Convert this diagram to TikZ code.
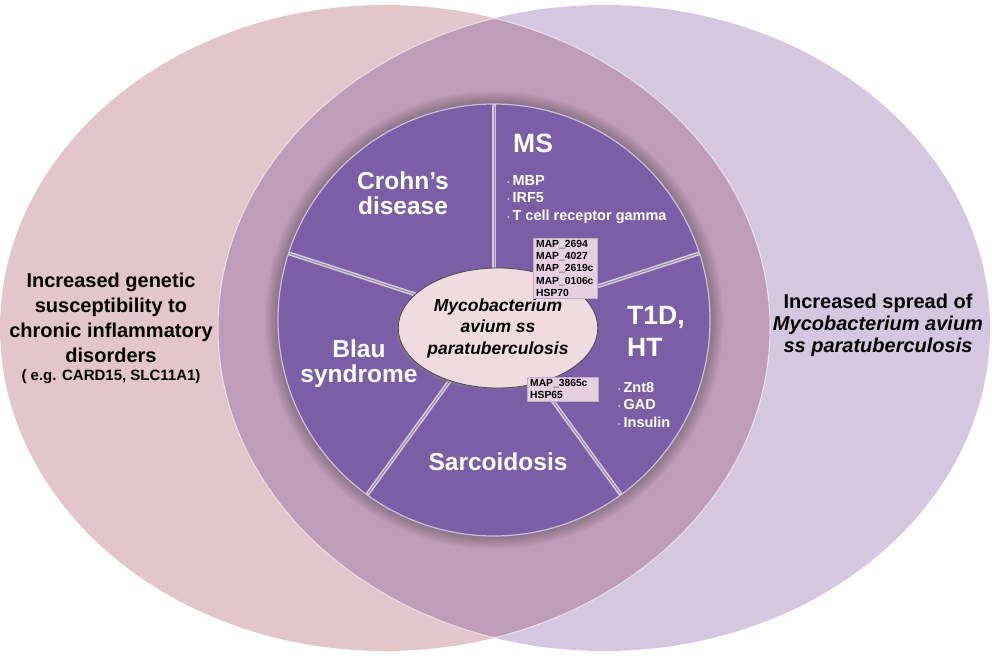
\documentclass[tikz,border=0pt]{standalone}
\usepackage{fontspec}
\setmainfont{Liberation Sans}
\usetikzlibrary{positioning,shapes.geometric,shadows}

\definecolor{leftpink}{HTML}{E3C6CC}
\definecolor{rightlav}{HTML}{D5C7E0}
\definecolor{lens}{HTML}{BF9CB8}
\definecolor{pie}{HTML}{7B5EA5}
\definecolor{pieedge}{HTML}{CDBEDB}
\definecolor{centerpink}{HTML}{F0DCE0}
\definecolor{boxfill}{HTML}{E6D0E0}
\definecolor{boxedge}{HTML}{C4A9C8}
\definecolor{divlight}{HTML}{D6CCDC}
\definecolor{divmid}{HTML}{968AA4}

\newcommand\gdot{{\fontsize{9}{9}\selectfont·}\,}

\tikzset{
  outer/.style={font=\bfseries\fontsize{20}{25}\selectfont,align=center,text=black},
  dis/.style={font=\bfseries\fontsize{24.5}{25}\selectfont,text=white,align=center,inner sep=0pt},
  bigdis/.style={font=\bfseries\fontsize{26.5}{32}\selectfont,text=white,align=left,inner sep=0pt},
  gene/.style={font=\bfseries\fontsize{14.5}{17.5}\selectfont,text=white,align=left,inner sep=0pt},
  mapbox/.style={draw=boxedge,fill=boxfill,font=\bfseries\fontsize{10.3}{12.3}\selectfont,
    align=left,inner xsep=3pt,inner ysep=2pt,anchor=north west},
  divider/.style={line width=4pt,draw=divlight}
}

\begin{document}
\begin{tikzpicture}[x=1pt,y=-1pt]
\useasboundingbox (0,0) rectangle (992,658);

% the two sets
\fill[leftpink] (385,328) ellipse [x radius=385,y radius=323];
\fill[rightlav] (604,328) ellipse [x radius=386,y radius=323];
\begin{scope}
\clip (385,328) ellipse [x radius=385,y radius=323];
\fill[lens] (604,328) ellipse [x radius=386,y radius=323];
\draw[white,opacity=.6,line width=1pt] (604,328) ellipse [x radius=386,y radius=323];
\end{scope}
\begin{scope}
\clip (604,328) ellipse [x radius=386,y radius=323];
\draw[white,opacity=.6,line width=1pt] (385,328) ellipse [x radius=385,y radius=323];
\end{scope}

% pie with its soft shadow
\coordinate (c) at (494,320);
\foreach \i in {1,...,14}
  \fill[black,opacity=.02] (c) circle [radius=230-\i];
\fill[pie] (c) circle [radius=216];
\draw[pieedge,line width=1.2pt] (c) circle [radius=216];
\foreach \a in {-90,-18,54,126,198} {
  \draw[divider] (c) -- ++(\a:216);
  \draw[divmid,line width=1pt] (c) -- ++(\a:215);
}

% centre
\node[ellipse,draw=black!70,line width=.8pt,fill=centerpink,minimum width=166pt,minimum height=120pt,
  inner sep=0pt,drop shadow={shadow xshift=-2pt,shadow yshift=-2pt,opacity=.45},
  font=\bfseries\itshape\fontsize{17.5}{21.5}\selectfont,align=center] (map) at (498,328)
  {Mycobacterium\\avium ss\\paratuberculosis};

% sectors
\node[dis,anchor=north] (crohn) at (403,172) {Crohn’s\\disease};
\node[bigdis,anchor=north west] (ms) at (513,134) {MS};
\node[gene,anchor=north west] (msgenes) at (507,175) {\gdot MBP\\\gdot IRF5\\\gdot T cell receptor gamma};
\node[bigdis,anchor=north west] (t1d) at (627,306) {T1D,\\HT};
\node[gene,anchor=north west] (t1dgenes) at (618,382) {\gdot Znt8\\\gdot GAD\\\gdot Insulin};
\node[dis,anchor=north] (blau) at (359,340) {Blau\\syndrome};
\node[dis,anchor=north] (sarc) at (498,453) {Sarcoidosis};

% antigens
\node[mapbox,text width=58pt] (ag1) at (533,238) {MAP\_2694\\MAP\_4027\\MAP\_2619c\\MAP\_0106c\\HSP70};
\node[mapbox,text width=65pt] (ag2) at (527,377) {MAP\_3865c\\HSP65};

% set labels
\node[outer] (genetic) at (111,318) {Increased genetic\\susceptibility to\\chronic inflammatory\\disorders};
\node[outer,font=\bfseries\fontsize{15}{18}\selectfont,below=0pt of genetic] (eg) {( e.g. CARD15, SLC11A1)};
\node[outer,font=\bfseries\fontsize{20}{22}\selectfont] (spread) at (878,325)
  {Increased spread of\\\textit{Mycobacterium avium}\\\textit{ss paratuberculosis}};
\end{tikzpicture}
\end{document}
